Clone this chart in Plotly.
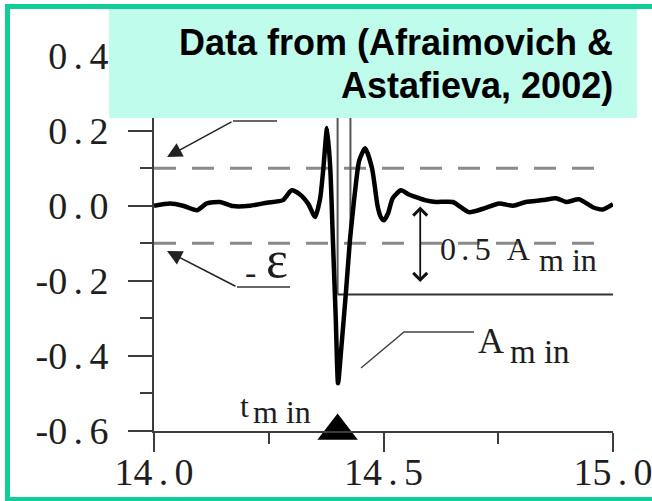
import plotly.graph_objects as go

# ---------------- data ----------------
t = [14.000, 14.035, 14.063, 14.094, 14.115, 14.144, 14.172, 14.209, 14.246, 14.281,
     14.300, 14.318, 14.336, 14.351, 14.362, 14.369, 14.377, 14.384, 14.390, 14.396,
     14.401, 14.408, 14.418, 14.427, 14.432, 14.440, 14.447, 14.460, 14.475, 14.487,
     14.494, 14.501, 14.510, 14.520, 14.538, 14.555, 14.571, 14.590, 14.614, 14.651,
     14.686, 14.717, 14.752, 14.782, 14.810, 14.847, 14.876, 14.898, 14.926, 14.956,
     14.978, 15.000]
v = [0.000, 0.006, 0.000, -0.012, 0.006, 0.010, -0.001, 0.000, 0.008, 0.015,
     0.041, 0.030, 0.005, -0.030, 0.020, 0.100, 0.207, 0.100, -0.100, -0.300,
     -0.473, -0.380, -0.233, -0.090, -0.030, 0.060, 0.120, 0.153, 0.100, 0.000,
     -0.030, -0.039, -0.020, 0.020, 0.041, 0.030, 0.023, 0.015, 0.010, 0.010,
     -0.017, -0.008, 0.006, 0.000, 0.010, 0.015, 0.020, 0.010, 0.017, -0.004,
     -0.010, 0.004]

eps = 0.1
t_min = 14.400
A_min = -0.473
t_half = 14.428

x_tick_vals = [14.0, 14.5, 15.0]
x_tick_text = ["14\u2006.\u20060", "14\u2006.\u20065", "15\u2006.\u20060"]
x_minor_vals = [14.25, 14.75]
y_tick_vals = [-0.6, -0.4, -0.2, 0.0, 0.2, 0.4]
y_tick_text = ["-0\u2006.\u20066", "-0\u2006.\u20064", "-0\u2006.\u20062",
               "0\u2006.\u20060", "0\u2006.\u20062", "0\u2006.\u20064"]
y_minor_vals = [-0.5, -0.3, -0.1, 0.1, 0.3]

# ---------------- layout geometry ----------------
W, H = 652, 501
L, R, T, B = 154, 39, 18, 70
X_RANGE = [14.0, 15.0]
Y_RANGE = [-0.6, 0.5]
PW, PH = W - L - R, H - T - B


def px(p):   # pixel x -> paper
    return (p - L) / PW


def py(p):   # pixel y -> paper
    return (H - B - p) / PH


def dx(p):   # pixel x -> data
    return X_RANGE[0] + (p - L) / PW * (X_RANGE[1] - X_RANGE[0])


def dy(p):   # pixel y -> data
    return Y_RANGE[1] - (p - T) / PH * (Y_RANGE[1] - Y_RANGE[0])


SERIF = "Liberation Serif"
SANS = "Liberation Sans"
TXT = "#1e1e1e"
AX = "#3c3c3c"

fig = go.Figure()
fig.add_trace(go.Scatter(x=t, y=v, mode="lines",
                         line=dict(color="black", width=4.5, shape="spline", smoothing=0.6),
                         showlegend=False, hoverinfo="skip"))
fig.add_trace(go.Scatter(x=[t_min], y=[Y_RANGE[0]], mode="markers",
                         marker=dict(symbol="triangle-up", size=35, color="black",
                                     line=dict(width=0)),
                         cliponaxis=False, showlegend=False, hoverinfo="skip"))

shapes = []
# threshold dashed lines
for lvl in (eps, -eps):
    shapes.append(dict(type="line", xref="x", yref="y", x0=14.0, x1=14.962,
                       y0=lvl, y1=lvl, layer="below",
                       line=dict(color="#8a8a8a", width=3, dash="22px,16px")))
# vertical markers
shapes.append(dict(type="line", xref="x", yref="y", x0=t_min, x1=t_min,
                   y0=0.5 * A_min, y1=Y_RANGE[1], layer="below",
                   line=dict(color="#555555", width=2)))
shapes.append(dict(type="line", xref="x", yref="y", x0=t_half, x1=t_half,
                   y0=-0.09, y1=Y_RANGE[1], layer="below",
                   line=dict(color="#555555", width=2)))
# half amplitude line
shapes.append(dict(type="line", xref="x", yref="y", x0=t_min, x1=15.0,
                   y0=0.5 * A_min, y1=0.5 * A_min, layer="below",
                   line=dict(color="#333333", width=1.8)))
# leader lines
shapes.append(dict(type="line", xref="x", yref="y", x0=dx(237), x1=dx(290),
                   y0=dy(287), y1=dy(287), line=dict(color="#333333", width=1.5)))
shapes.append(dict(type="line", xref="x", yref="y", x0=dx(233), x1=dx(277),
                   y0=dy(121), y1=dy(121), line=dict(color="#333333", width=1.5)))
shapes.append(dict(type="path", xref="x", yref="y",
                   path="M %f,%f L %f,%f L %f,%f" % (dx(361), dy(368), dx(404), dy(332),
                                                     dx(474), dy(332)),
                   line=dict(color="#444444", width=1.5)))
# caption box
shapes.append(dict(type="rect", xref="paper", yref="paper", layer="above",
                   x0=px(109), x1=px(637), y0=py(118), y1=py(4),
                   fillcolor="#C0FCEC", line=dict(width=0)))
# green frame
shapes.append(dict(type="rect", xref="paper", yref="paper", layer="above",
                   x0=px(7.5), x1=px(660), y0=py(499.5), y1=py(6.5),
                   fillcolor="rgba(0,0,0,0)", line=dict(color="#12CD97", width=5)))

ann = []
# epsilon arrows
ann.append(dict(xref="x", yref="y", axref="x", ayref="y",
                x=dx(167), y=dy(251), ax=dx(237), ay=dy(287), text="",
                showarrow=True, arrowhead=2, arrowsize=2, arrowwidth=1.5,
                arrowcolor="#222222", standoff=0))
ann.append(dict(xref="x", yref="y", axref="x", ayref="y",
                x=dx(167), y=dy(157), ax=dx(233), ay=dy(121), text="",
                showarrow=True, arrowhead=2, arrowsize=2, arrowwidth=1.5,
                arrowcolor="#222222", standoff=0))
# double arrow
ann.append(dict(xref="x", yref="y", axref="x", ayref="y",
                x=14.58, y=dy(282), ax=14.58, ay=dy(205), text="",
                showarrow=True, arrowhead=4, startarrowhead=4, arrowside="end+start",
                arrowsize=1.5, startarrowsize=1.5, arrowwidth=1.8,
                arrowcolor="#111111", standoff=0, startstandoff=0))


def label(text, x_left, y_mid, size, anchor="left", family=SERIF, weight="normal"):
    ann.append(dict(xref="paper", yref="paper", x=px(x_left), y=py(y_mid),
                    xanchor=anchor, yanchor="middle", text=text, showarrow=False,
                    font=dict(family=family, size=size, color=TXT, weight=weight)))


label("0\u2006.\u20065\u2002A", 438, 249, 32)
label("m in", 537, 260, 32)
label("A", 476, 341, 36)
label("m in", 508, 352, 33)
label("t", 238, 406, 32)
label("m in", 251, 412, 32)
label("-", 250, 272, 34, anchor="center")
label("\u03b5", 277, 259, 52, anchor="center")

# caption text
ann.append(dict(xref="paper", yref="paper", x=px(615), y=py(42.5), xanchor="right",
                yanchor="middle", text="Data from (Afraimovich &", showarrow=False,
                font=dict(family=SANS, size=36, color="black", weight="bold")))
ann.append(dict(xref="paper", yref="paper", x=px(615), y=py(85.5), xanchor="right",
                yanchor="middle", text="Astafieva, 2002)", showarrow=False,
                font=dict(family=SANS, size=36, color="black", weight="bold")))

fig.update_layout(
    width=W, height=H,
    margin=dict(l=L, r=R, t=T, b=B, pad=0, autoexpand=False),
    paper_bgcolor="white", plot_bgcolor="white",
    showlegend=False,
    shapes=shapes, annotations=ann,
    xaxis=dict(range=X_RANGE, showgrid=False, zeroline=False, automargin=False,
               showline=True, linecolor=AX, linewidth=2,
               ticks="outside", ticklen=19, tickwidth=2, tickcolor=AX,
               tickmode="array", tickvals=x_tick_vals, ticktext=x_tick_text,
               tickfont=dict(family=SERIF, size=38, color=TXT),
               ticklabelstandoff=-13, ticklabeloverflow="allow",
               minor=dict(tickmode="array", tickvals=x_minor_vals, ticks="outside",
                          ticklen=11, tickwidth=2, tickcolor=AX)),
    yaxis=dict(range=Y_RANGE, showgrid=False, zeroline=False, automargin=False,
               showline=True, linecolor=AX, linewidth=2,
               ticks="outside", ticklen=24, tickwidth=2, tickcolor=AX,
               tickmode="array", tickvals=y_tick_vals, ticktext=y_tick_text,
               tickfont=dict(family=SERIF, size=38, color=TXT),
               ticklabelstandoff=12, ticklabeloverflow="allow",
               minor=dict(tickmode="array", tickvals=y_minor_vals, ticks="outside",
                          ticklen=12, tickwidth=2, tickcolor=AX)),
)

fig.write_html("out.html")
